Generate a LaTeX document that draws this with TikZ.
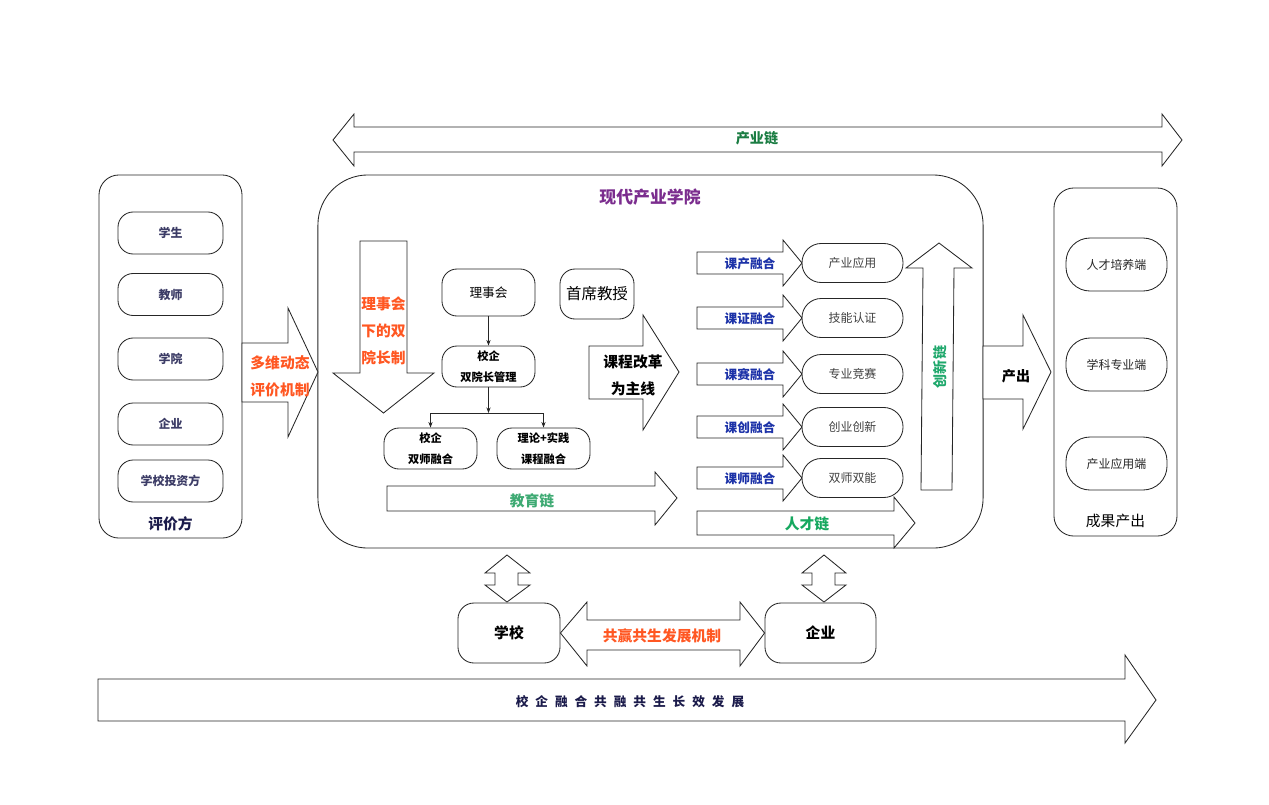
\documentclass[tikz,border=0pt]{standalone}
\usepackage{fontspec}
\setmainfont{Noto Sans CJK SC}
\usetikzlibrary{arrows.meta, positioning}

\definecolor{hotorange}{HTML}{FF5722}
\definecolor{titlepurple}{HTML}{7B2D8E}
\definecolor{linkblue}{HTML}{1C32A8}
\definecolor{edugreen}{HTML}{3EAA73}
\definecolor{talentgreen}{HTML}{16A85F}
\definecolor{innogreen}{HTML}{1FA86C}
\definecolor{chaingreen}{HTML}{1B7D43}
\definecolor{navy}{HTML}{1B1B4B}
\definecolor{partytext}{HTML}{3C3C66}

\begin{document}
\begin{tikzpicture}[
        x=0.025cm, y=-0.025cm,
        every node/.style={inner sep=0pt},
        panel/.style={draw=black!85, line width=0.6pt, rounded corners=0.5cm},
        party/.style={draw=black!85, line width=0.6pt, rounded corners=0.38cm, minimum width=2.625cm, minimum height=1.05cm, text=partytext, font=\fontsize{8.5}{10}\selectfont\bfseries},
        item/.style={draw=black!85, line width=0.6pt, rounded corners=0.375cm, minimum width=2.325cm, align=center},
        pill/.style={draw=black!85, line width=0.6pt, rounded corners=0.48cm, minimum width=2.525cm, minimum height=0.975cm, text=black!75, font=\fontsize{8.5}{10}\selectfont},
        outbox/.style={draw=black!85, line width=0.6pt, rounded corners=0.6cm, minimum width=2.525cm, minimum height=1.325cm, text=black!85, font=\fontsize{8.5}{10}\selectfont},
        blk/.style={draw=black!85, fill=white, line width=0.6pt, line join=miter},
        linklabel/.style={text=linkblue, font=\fontsize{9}{10}\selectfont\bfseries},
        thin/.style={draw=black!85, line width=0.5pt, -{Stealth[length=4pt, width=3pt]}}
    ]
        \useasboundingbox (0,0) rectangle (1269,804);

        % 产业链
        \draw[blk] (333,140) -- (354,114) -- (354,127) -- (1162,127) -- (1162,114) -- (1182,140)
            -- (1162,166) -- (1162,152) -- (354,152) -- (354,166) -- cycle;
        \node[text=chaingreen, font=\fontsize{10}{12}\selectfont\bfseries] (industrychain) at (757,138) {产业链};

        % 评价方
        \node[panel, minimum width=3.575cm, minimum height=9.075cm] (evalpanel) at (170.5,356.5) {};
        \node[party] (student) at (170.5,233) {学生};
        \node[party] (teacher) at (170.5,294.5) {教师};
        \node[party] (college) at (170.5,359) {学院};
        \node[party] (firm) at (170.5,424) {企业};
        \node[party] (investor) at (170.5,481) {学校投资方};
        \node[text=navy, font=\fontsize{10.5}{12}\selectfont\bfseries] (evaltitle) at (170.5,524) {评价方};

        % 现代产业学院
        \node[panel, rounded corners=1.25cm, minimum width=16.625cm, minimum height=9.325cm] (academy) at (650.5,361.5) {};
        \node[text=titlepurple, font=\fontsize{12}{14}\selectfont\bfseries] (academytitle) at (650,197) {现代产业学院};

        % 多维动态评价机制
        \draw[blk] (242,343) -- (288,343) -- (288,308) -- (318,372) -- (288,437) -- (288,402) -- (242,402) -- cycle;
        \node[text=hotorange, align=center, font=\fontsize{10.5}{19.2}\selectfont\bfseries] (evalmech) at (280,376) {多维动态\\评价机制};

        % 理事会下的双院长制
        \draw[blk] (360,241) -- (407,241) -- (407,373) -- (434,373) -- (383.5,413) -- (333,373) -- (360,373) -- cycle;
        \node[text=hotorange, align=center, font=\fontsize{10.5}{19.2}\selectfont\bfseries] (deanmech) at (383.5,331) {理事会\\下的双\\院长制};

        % 理事会 -> 校企双院长管理
        \node[item, minimum height=1.175cm, font=\fontsize{9}{10}\selectfont] (board) at (488.5,292.5) {理事会};
        \node[item, minimum width=1.85cm, minimum height=1.25cm, font=\fontsize{11}{12}\selectfont] (chief) at (597,294) {首席教授};
        \node[item, minimum height=1.025cm, font=\fontsize{8}{15}\selectfont\bfseries] (dualdean) at (488.5,366.5) {校企\\双院长管理};
        \node[item, minimum height=1.025cm, font=\fontsize{8}{14.5}\selectfont\bfseries] (dualteacher) at (430.5,448.5) {校企\\双师融合};
        \node[item, minimum height=1.025cm, font=\fontsize{8}{14.5}\selectfont\bfseries] (dualcourse) at (543.5,448.5) {理论+实践\\课程融合};
        \coordinate (split) at (488.5,413);
        \draw[thin] (board) -- (dualdean);
        \draw[thin] (dualdean) -- (split);
        \draw[thin] (split) -| (dualteacher);
        \draw[thin] (split) -| (dualcourse);

        % 教育链
        \draw[blk] (387,486) -- (655,486) -- (655,472) -- (677,498) -- (655,525) -- (655,511) -- (387,511) -- cycle;
        \node[text=edugreen, font=\fontsize{10.5}{12}\selectfont\bfseries] (educhain) at (532,501) {教育链};

        % 课程改革为主线
        \draw[blk] (589,346) -- (643,346) -- (643,315) -- (679,372) -- (643,430) -- (643,399) -- (589,399) -- cycle;
        \node[align=center, font=\fontsize{10.5}{19.2}\selectfont\bfseries] (reform) at (633,375) {课程改革\\为主线};

        % 五个融合
        \draw[blk] (697,252) -- (783,252) -- (783,240) -- (802,263) -- (783,286) -- (783,274) -- (697,274) -- cycle;
        \draw[blk] (697,307) -- (783,307) -- (783,295) -- (802,318) -- (783,341) -- (783,329) -- (697,329) -- cycle;
        \draw[blk] (697,363) -- (783,363) -- (783,351) -- (802,374) -- (783,397) -- (783,385) -- (697,385) -- cycle;
        \draw[blk] (697,416) -- (783,416) -- (783,404) -- (802,427) -- (783,450) -- (783,438) -- (697,438) -- cycle;
        \draw[blk] (697,467) -- (783,467) -- (783,455) -- (802,478) -- (783,501) -- (783,489) -- (697,489) -- cycle;
        \node[linklabel] (lk1) at (750,264) {课产融合};
        \node[linklabel] (lk2) at (750,319) {课证融合};
        \node[linklabel] (lk3) at (750,375) {课赛融合};
        \node[linklabel] (lk4) at (750,428) {课创融合};
        \node[linklabel] (lk5) at (750,479) {课师融合};
        \node[pill] (apply) at (852.5,263) {产业应用};
        \node[pill] (cert) at (852.5,318) {技能认证};
        \node[pill] (contest) at (852.5,374) {专业竞赛};
        \node[pill] (startup) at (852.5,427) {创业创新};
        \node[pill] (dualskill) at (852.5,478) {双师双能};

        % 人才链
        \draw[blk] (697,511) -- (894,511) -- (894,497) -- (915,523) -- (894,548) -- (894,535) -- (697,535) -- cycle;
        \node[text=talentgreen, font=\fontsize{10.5}{12}\selectfont\bfseries] (talentchain) at (807,524) {人才链};

        % 创新链
        \draw[blk] (921,490) -- (923,268) -- (906,268) -- (939,243) -- (972,268) -- (954,268) -- (952,490) -- cycle;
        \node[text=innogreen, rotate=90, font=\fontsize{10}{12}\selectfont\bfseries] (innochain) at (940,367) {创新链};

        % 产出
        \draw[blk] (983,346) -- (1023,346) -- (1023,315) -- (1051,372) -- (1023,429) -- (1023,399) -- (983,399) -- cycle;
        \node[font=\fontsize{10}{12}\selectfont\bfseries] (output) at (1016,376) {产出};

        % 成果产出
        \node[panel, minimum width=3.075cm, minimum height=8.7cm] (resultpanel) at (1115.5,362) {};
        \node[outbox] (talentend) at (1116.5,264.5) {人才培养端};
        \node[outbox] (subjectend) at (1116.5,364.5) {学科专业端};
        \node[outbox] (industryend) at (1116.5,463.5) {产业应用端};
        \node[font=\fontsize{10.5}{12}\selectfont] (resulttitle) at (1115.5,521) {成果产出};

        % 学校 <-> 企业
        \draw[blk] (507,555) -- (530,573) -- (518,573) -- (518,585) -- (530,585) -- (507,602)
            -- (485,585) -- (495,585) -- (495,573) -- (485,573) -- cycle;
        \draw[blk] (824,555) -- (846,573) -- (835,573) -- (835,585) -- (846,585) -- (824,602)
            -- (802,585) -- (812,585) -- (812,573) -- (802,573) -- cycle;
        \node[item, minimum width=2.55cm, minimum height=1.5cm, rounded corners=0.4cm, font=\fontsize{10.5}{12}\selectfont\bfseries] (school) at (509,633) {学校};
        \node[item, minimum width=2.775cm, minimum height=1.5cm, rounded corners=0.4cm, font=\fontsize{10.5}{12}\selectfont\bfseries] (company) at (820.5,633) {企业};
        \draw[blk] (school.east) -- (587,602) -- (587,620) -- (740,620) -- (740,602) -- (company.west)
            -- (740,666) -- (740,650) -- (587,650) -- (587,666) -- cycle;
        \node[text=hotorange, font=\fontsize{10.5}{12}\selectfont\bfseries] (winwin) at (662,636) {共赢共生发展机制};

        % 校企融合共融共生长效发展
        \draw[blk] (98,679) -- (1125,679) -- (1125,655) -- (1156,700) -- (1125,743) -- (1125,721) -- (98,721) -- cycle;
        \node[text=navy, font=\fontsize{9}{10}\selectfont\bfseries\addfontfeatures{LetterSpace=55}] (longterm) at (630,702) {校企融合共融共生长效发展};
    \end{tikzpicture}
\end{document}
